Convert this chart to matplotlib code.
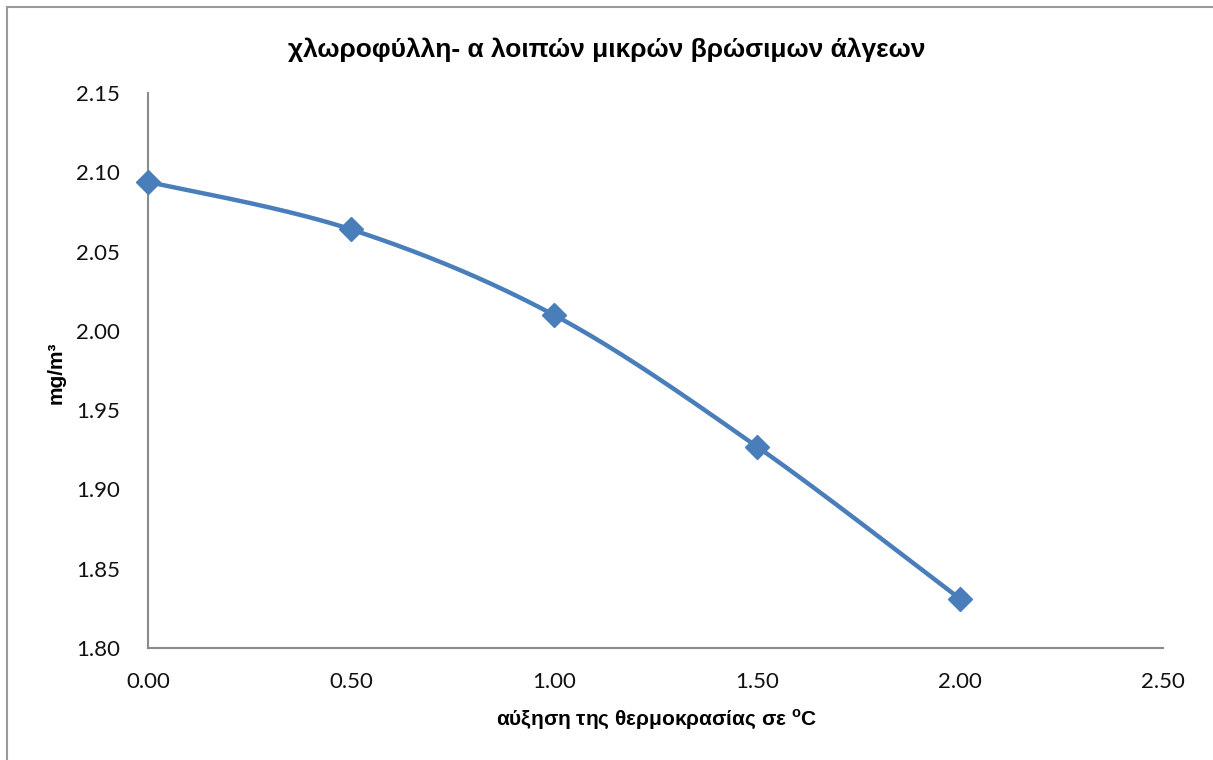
import numpy as np
import matplotlib
matplotlib.use("Agg")
import matplotlib.pyplot as plt
from matplotlib.lines import Line2D

# data
temp_rise = [0.0, 0.5, 1.0, 1.5, 2.0]
chl_a = [2.094, 2.064, 2.010, 1.927, 1.831]

title = "χλωροφύλλη- α λοιπών μικρών βρώσιμων άλγεων"
xlabel = r"αύξηση της θερμοκρασίας σε $^{\mathregular{o}}$C"
ylabel = "mg/m³"
xticks = [0.0, 0.5, 1.0, 1.5, 2.0, 2.5]
yticks = [1.80, 1.85, 1.90, 1.95, 2.00, 2.05, 2.10, 2.15]


def smooth(x, y, n=40):
    # Excel-like smoothed line (Catmull-Rom style bezier)
    x = np.asarray(x, float)
    y = np.asarray(y, float)
    px = np.concatenate([[x[0]], x, [x[-1]]])
    py = np.concatenate([[y[0]], y, [y[-1]]])
    xs, ys = [], []
    t = np.linspace(0, 1, n)
    for i in range(1, len(px) - 2):
        p0 = np.array([px[i], py[i]])
        p3 = np.array([px[i + 1], py[i + 1]])
        p1 = p0 + (np.array([px[i + 1], py[i + 1]]) - np.array([px[i - 1], py[i - 1]])) / 6
        p2 = p3 - (np.array([px[i + 2], py[i + 2]]) - np.array([px[i], py[i]])) / 6
        b = ((1 - t) ** 3)[:, None] * p0 + (3 * (1 - t) ** 2 * t)[:, None] * p1 \
            + (3 * (1 - t) * t ** 2)[:, None] * p2 + (t ** 3)[:, None] * p3
        xs.extend(b[:, 0])
        ys.extend(b[:, 1])
    return xs, ys


fig = plt.figure(figsize=(12.13, 7.60), dpi=100)
ax = fig.add_axes([0.122, 0.1474, 0.8368, 0.7302])

blue = "#4a7ebb"
sx, sy = smooth(temp_rise, chl_a)
ax.plot(sx, sy, color=blue, lw=3.2, solid_capstyle="round", zorder=2)
ax.plot(temp_rise, chl_a, linestyle="none", marker="D", markersize=12,
        color=blue, zorder=3, clip_on=False)

ax.set_xlim(0, 2.5)
ax.set_ylim(1.80, 2.15)
ax.set_xticks(xticks)
ax.set_yticks(yticks)
ax.set_xticklabels([f"{v:.2f}" for v in xticks])
ax.set_yticklabels([f"{v:.2f}" for v in yticks])
ax.tick_params(length=0, labelsize=16)
ax.tick_params(axis="y", pad=20)
ax.tick_params(axis="x", pad=17)
for lab in ax.get_xticklabels() + ax.get_yticklabels():
    lab.set_fontfamily("Lato")
    lab.set_color("#111111")

for s in ["top", "right"]:
    ax.spines[s].set_visible(False)
for s in ["left", "bottom"]:
    ax.spines[s].set_color("#8a8a8a")
    ax.spines[s].set_linewidth(1.5)

fig.text(0.5, 0.935, title, ha="center", va="center", fontsize=19,
         fontweight="bold", family="Liberation Sans")
fig.text(0.541, 0.054, xlabel, ha="center", va="center", fontsize=15,
         fontweight="bold", family="Liberation Sans")
fig.text(0.046, 0.51, ylabel, ha="center", va="center", fontsize=15,
         fontweight="bold", family="Liberation Sans", rotation=90)

# chart area border (left and top edges visible)
fig.add_artist(Line2D([0.006, 0.006], [0, 0.991], transform=fig.transFigure,
                      color="#9a9a9a", lw=1.5))
fig.add_artist(Line2D([0.006, 1.0], [0.991, 0.991], transform=fig.transFigure,
                      color="#9a9a9a", lw=1.5))

fig.savefig("out.png", dpi=100)
